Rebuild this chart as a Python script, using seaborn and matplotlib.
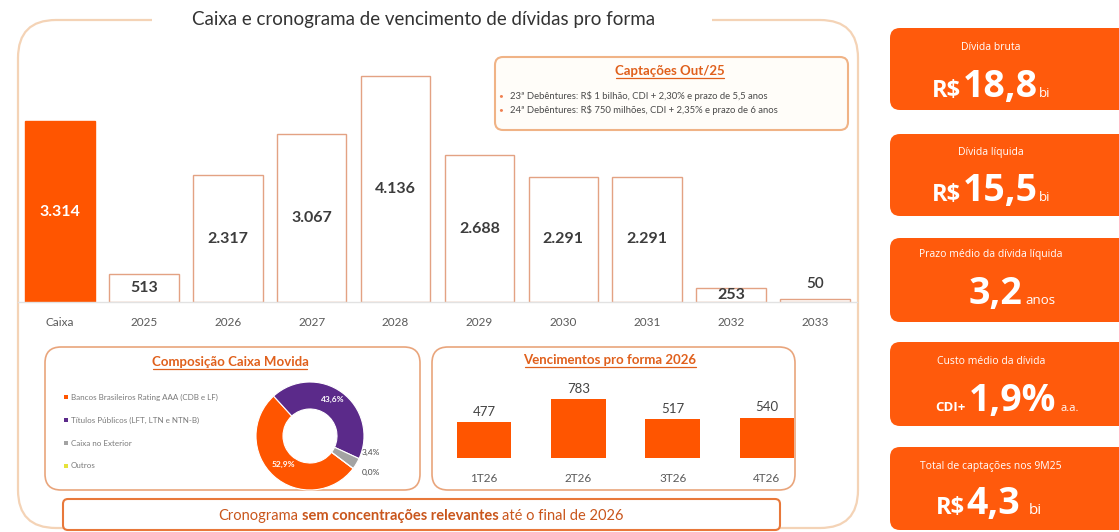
import matplotlib
matplotlib.use("Agg")
import matplotlib.pyplot as plt
import seaborn as sns
import pandas as pd
from matplotlib.patches import FancyBboxPatch, Rectangle

# ---------------- data ----------------
categories = ["Caixa", "2025", "2026", "2027", "2028", "2029", "2030", "2031", "2032", "2033"]
values = [3314, 513, 2317, 3067, 4136, 2688, 2291, 2291, 253, 50]
value_labels = ["3.314", "513", "2.317", "3.067", "4.136", "2.688", "2.291", "2.291", "253", "50"]

quarters = ["1T26", "2T26", "3T26", "4T26"]
quarter_values = [477, 783, 517, 540]

comp_labels = ["Bancos Brasileiros Rating AAA (CDB e LF)", "Títulos Públicos (LFT, LTN e NTN-B)",
               "Caixa no Exterior", "Outros"]
comp_values = [52.9, 43.6, 3.4, 0.0]
comp_text = ["52,9%", "43,6%", "3,4%", "0,0%"]

callout_lines = [r"23ª Debêntures: R\$ 1 bilhão, CDI + 2,30% e prazo de 5,5 anos",
                 r"24ª Debêntures: R\$ 750 milhões, CDI + 2,35% e prazo de 6 anos"]

# ---------------- style ----------------
sns.set_theme(style="white")
FONT = ["Lato", "DejaVu Sans"]
FONT2 = ["Open Sans", "DejaVu Sans"]
plt.rcParams["font.family"] = FONT

ORANGE = "#ff5500"
BOX_OR = "#ff5a0c"
TITLE_OR = "#e0601c"
PURPLE = "#5b2a8a"
GRAY = "#a3a3a3"
YELLOW = "#e6e23a"
DARK = "#3c3c3c"

W, H = 1119, 532
fig = plt.figure(figsize=(W / 100, H / 100), dpi=100)
fig.patch.set_facecolor("white")

bg = fig.add_axes([0, 0, 1, 1])
bg.set_xlim(0, W)
bg.set_ylim(H, 0)
bg.axis("off")
bg.set_zorder(0)
renderer = fig.canvas.get_renderer()


def ax_px(l, t, r, b):
    a = fig.add_axes([l / W, 1 - b / H, (r - l) / W, (b - t) / H])
    a.set_zorder(2)
    a.patch.set_alpha(0)
    return a


def rbox(x0, y0, x1, y1, r, fc="none", ec="none", lw=1.0, z=1):
    p = FancyBboxPatch((x0, y0), x1 - x0, y1 - y0,
                       boxstyle=f"round,pad=0,rounding_size={r}",
                       fc=fc, ec=ec, lw=lw, zorder=z)
    bg.add_patch(p)
    return p


def underlined(cx, cy, s, size, color, weight="bold"):
    t = bg.text(cx, cy, s, ha="center", va="center", fontsize=size, color=color,
                fontweight=weight, zorder=5)
    bb = t.get_window_extent(renderer)
    yl = H - bb.y0 + 0.5
    bg.plot([bb.x0 + 1, bb.x1 - 1], [yl, yl], color=color, lw=0.9, zorder=5)
    return t


def inline(parts, cx, y, family=FONT, z=6):
    objs, widths, gaps = [], [], []
    for (s, size, weight, color, gap) in parts:
        o = bg.text(0, y, s, fontsize=size, fontweight=weight, color=color,
                    va="baseline", ha="left", family=family, zorder=z)
        widths.append(o.get_window_extent(renderer).width)
        objs.append(o)
        gaps.append(gap)
    total = sum(widths) + sum(gaps[:-1])
    x = cx - total / 2
    for o, wd, g in zip(objs, widths, gaps):
        o.set_x(x)
        x += wd + g


# ---------------- main frame & title ----------------
rbox(18, 20, 858, 528, 38, ec="#f4d3b6", lw=1.6, z=1)
bg.add_patch(Rectangle((152, 10), 560, 20, fc="white", ec="none", zorder=2))
bg.text(424, 20, "Caixa e cronograma de vencimento de dívidas pro forma", ha="center",
        va="center", fontsize=13.5, color="#333333", zorder=3)

# ---------------- main bar chart ----------------
df = pd.DataFrame({"cat": categories, "val": values})
fills = {c: (ORANGE if c == "Caixa" else "white") for c in categories}
ax = ax_px(18, 45, 857, 302)
sns.barplot(data=df, x="cat", y="val", hue="cat", palette=fills, width=0.83,
            legend=False, ax=ax, linewidth=1.0, edgecolor="#e3a283", saturation=1)
for cont, c in zip(ax.containers, categories):
    for p in cont:
        if c == "Caixa":
            p.set_edgecolor(ORANGE)
ax.set_xlim(-0.5, 9.5)
ax.set_ylim(0, 257 / (181 / 3314))
for i, (v, lab) in enumerate(zip(values, value_labels)):
    if v < 100:
        ax.text(i, v + 160, lab, ha="center", va="bottom", fontsize=11, color=DARK,
                fontweight="semibold")
    else:
        ax.text(i, v / 2, lab, ha="center", va="center", fontsize=11.5,
                color=("white" if i == 0 else DARK), fontweight="bold")
ax.set_xlabel("")
ax.set_ylabel("")
ax.set_yticks([])
ax.tick_params(axis="x", length=0, pad=11, labelsize=8.5, labelcolor="#5a5a5a")
for s in ["top", "left", "right"]:
    ax.spines[s].set_visible(False)
ax.spines["bottom"].set_color("#e2e2e2")
ax.spines["bottom"].set_linewidth(1.0)

# ---------------- callout ----------------
rbox(495, 57, 848, 130, 8, fc="#fffdf9", ec="#f0b386", lw=1.5, z=3)
underlined(670, 71, "Captações Out/25", 9.5, TITLE_OR)
for k, line in enumerate(callout_lines):
    yy = 96 + 14 * k
    bg.text(501, yy, "•", ha="center", va="center", fontsize=6, color="#f08050", zorder=5)
    bg.text(510, yy, line, ha="left", va="center", fontsize=6.8, color="#4a4a4a", zorder=5)

# ---------------- composição panel ----------------
rbox(45, 347, 420, 490, 16, fc="white", ec="#e9a57c", lw=1.2, z=3)
underlined(230, 362, "Composição Caixa Movida", 9.5, TITLE_OR)
comp_colors = [ORANGE, PURPLE, GRAY, YELLOW]
for k, (lab, col) in enumerate(zip(comp_labels, comp_colors)):
    yy = 397 + 23 * k
    bg.add_patch(Rectangle((64, yy - 2), 4, 4, fc=col, ec="none", zorder=5))
    bg.text(71, yy, lab, ha="left", va="center", fontsize=5.8, color="#7a7a7a", zorder=5)

dax = ax_px(256, 382, 364, 490)
dax.pie(comp_values, colors=comp_colors, startangle=-37, counterclock=False,
        wedgeprops=dict(width=0.5, edgecolor="white", linewidth=0.8))
dax.set_xlim(-1, 1)
dax.set_ylim(-1, 1)
dax.set_aspect("equal")
dax.text(0.42, 0.68, comp_text[1], ha="center", va="center", fontsize=6, color="white",
         fontweight="bold")
dax.text(-0.5, -0.52, comp_text[0], ha="center", va="center", fontsize=6, color="white",
         fontweight="bold")
dax.text(1.13, -0.31, comp_text[2], ha="center", va="center", fontsize=6, color="#444444")
dax.text(1.13, -0.67, comp_text[3], ha="center", va="center", fontsize=6, color="#444444")

# ---------------- vencimentos 2026 panel ----------------
rbox(432, 347, 795, 490, 16, fc="white", ec="#e9a57c", lw=1.2, z=3)
underlined(610, 360, "Vencimentos pro forma 2026", 9.5, TITLE_OR)
qax = ax_px(437, 383, 814, 458)
qdf = pd.DataFrame({"q": quarters, "v": quarter_values})
sns.barplot(data=qdf, x="q", y="v", color=ORANGE, saturation=1, width=0.58, ax=qax,
            edgecolor="none")
qax.set_xlim(-0.5, 3.5)
qax.set_ylim(0, 1000)
for i, v in enumerate(quarter_values):
    qax.text(i, v + 60, str(v), ha="center", va="bottom", fontsize=9.5, color="#444444")
qax.set_xlabel("")
qax.set_ylabel("")
qax.set_yticks([])
qax.tick_params(axis="x", length=0, pad=11, labelsize=8.5, labelcolor="#5a5a5a")
for s in ["top", "left", "right", "bottom"]:
    qax.spines[s].set_visible(False)

# ---------------- bottom banner ----------------
rbox(63, 499, 780, 530, 5, fc="white", ec="#e8783a", lw=1.5, z=3)
BAN = "#c9561c"
inline([("Cronograma", 10.5, "normal", BAN, 3.5),
        ("sem concentrações relevantes", 10.5, "bold", BAN, 3.5),
        ("até o final de 2026", 10.5, "normal", BAN, 0)], 421, 520)

# ---------------- right KPI panels ----------------
panels = [(28, 110), (134, 216), (238, 322), (342, 426), (447, 530)]
for (t, b) in panels:
    rbox(890, t, 1135, b, 10, fc=BOX_OR, ec="none", z=2)

WH = "white"
bg.text(991, 47, "Dívida bruta", ha="center", va="center", fontsize=7.5, color=WH,
        family=FONT2, zorder=6)
inline([(r"R\$", 17, "bold", WH, 1), ("18,8", 27, "bold", WH, 1), ("bi", 9.5, "normal", WH, 0)],
       991, 97, family=FONT2)

bg.text(991, 152, "Dívida líquida", ha="center", va="center", fontsize=7.5, color=WH,
        family=FONT2, zorder=6)
inline([(r"R\$", 17, "bold", WH, 1), ("15,5", 27, "bold", WH, 1), ("bi", 9.5, "normal", WH, 0)],
       991, 201, family=FONT2)

bg.text(991, 255, "Prazo médio da dívida líquida", ha="center", va="center", fontsize=7.5,
        color=WH, family=FONT2, zorder=6)
inline([("3,2", 27, "bold", WH, 3), ("anos", 9.5, "normal", WH, 0)], 1012, 304, family=FONT2)

bg.text(991, 362, "Custo médio da dívida", ha="center", va="center", fontsize=7.5,
        color=WH, family=FONT2, zorder=6)
inline([("CDI+", 9.5, "bold", WH, 3), ("1,9%", 27, "bold", WH, 4), ("a.a.", 8, "normal", WH, 0)],
       1007, 411, family=FONT2)

bg.text(991, 466, "Total de captações nos 9M25", ha="center", va="center", fontsize=7.5,
        color=WH, family=FONT2, zorder=6)
inline([(r"R\$", 17, "bold", WH, 1), ("4,3", 27, "bold", WH, 9), ("bi", 11, "normal", WH, 0)],
       989, 514, family=FONT2)

fig.savefig("out.png", dpi=100, facecolor="white")
